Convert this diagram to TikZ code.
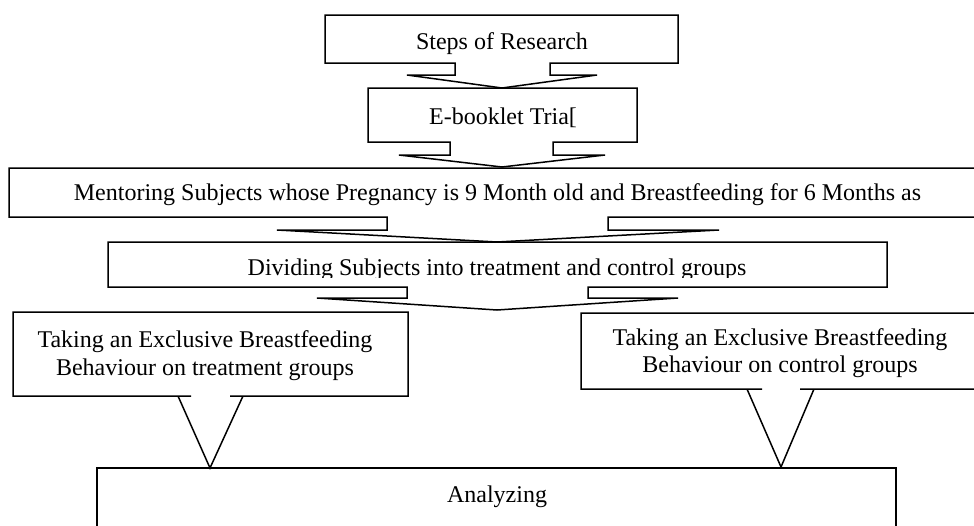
\documentclass[tikz,border=0pt]{standalone}
\usepackage{fontspec}
\setmainfont{Liberation Serif}
\begin{document}
\begin{tikzpicture}[x=1pt,y=-1pt]
\tikzset{
  callout/.style={draw=black, line width=1.5pt, line join=miter, fill=white},
  lbl/.style={anchor=base, inner sep=0pt, font=\fontsize{24}{28}\selectfont}
}
\useasboundingbox (0,0) rectangle (974,525);
\clip (0,0) rectangle (974,525);
% Box 1 with down arrow callout
\draw[callout] (325,15) -- (678,15) -- (678,63) -- (550,63) -- (550,75) -- (597,75) -- (502,88)
  -- (407,75) -- (455,75) -- (455,63) -- (325,63) -- cycle;
\node[lbl] (steps) at (502,49) {Steps of Research};
% Box 2
\draw[callout] (368,88) -- (637,88) -- (637,142) -- (553,142) -- (553,155) -- (605,155) -- (502,167)
  -- (399,155) -- (450,155) -- (450,142) -- (368,142) -- cycle;
\node[lbl] (ebook) at (503,124) {E-booklet Tria[};
% Box 3
\draw[callout] (9,168) -- (990,168) -- (990,217) -- (608,217) -- (608,230) -- (719,230) -- (497,242)
  -- (277,230) -- (387,230) -- (387,217) -- (9,217) -- cycle;
\node[lbl] (mentor) at (497.5,200) {Mentoring Subjects whose Pregnancy is 9 Month old and Breastfeeding for 6 Months as};
% Box 4
\draw[callout] (108,242) -- (887,242) -- (887,287) -- (588,287) -- (588,298) -- (678,298) -- (497,310)
  -- (317,298) -- (407,298) -- (407,287) -- (108,287) -- cycle;
\begin{scope}
\clip (108,243) rectangle (887,277);
\node[lbl] (divide) at (497,275) {Dividing Subjects into treatment and control groups};
\end{scope}
% Box 5 (treatment)
\draw[callout] (13,312) -- (408,312) -- (408,396) -- (230,396) -- (243,396) -- (210,468)
  -- (178,396) -- (191,396) -- (13,396) -- cycle;
\node[lbl] (treatA) at (205,347) {Taking an Exclusive Breastfeeding};
\node[lbl] (treatB) at (205,375) {Behaviour on treatment groups};
% Box 6 (control)
\draw[callout] (581,313) -- (990,313) -- (990,389) -- (800,389) -- (814,389) -- (781,467)
  -- (747,389) -- (762,389) -- (581,389) -- cycle;
\node[lbl] (ctrlA) at (780,345) {Taking an Exclusive Breastfeeding};
\node[lbl] (ctrlB) at (780,372) {Behaviour on control groups};
% Box 7
\draw[callout, fill=none] (97,540) -- (97,468) -- (896,468) -- (896,540);
\node[lbl] (analyze) at (497,502) {Analyzing};
\end{tikzpicture}
\end{document}
